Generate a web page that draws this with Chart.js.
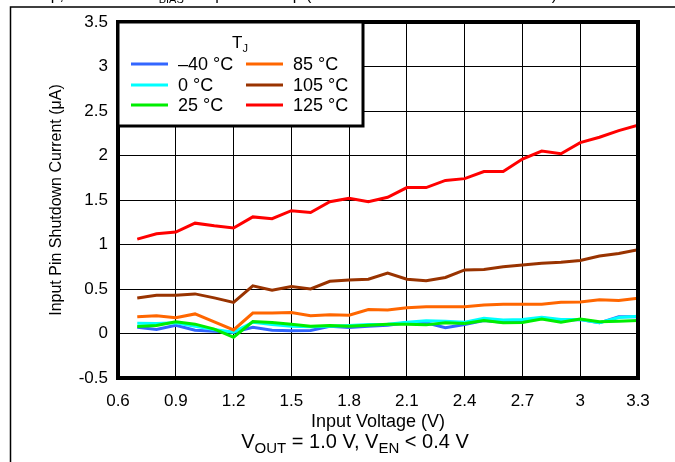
<!DOCTYPE html>
<html>
<head>
<meta charset="utf-8">
<script src="https://cdn.jsdelivr.net/npm/chart.js@4"></script>
<style>
  html, body { margin: 0; padding: 0; background: #fff; }
  canvas { display: block; }
</style>
</head>
<body>
<canvas id="c" width="675" height="462"></canvas>
<script>
// Input voltage sweep (V)
const inputVoltage = [0.7, 0.8, 0.9, 1.0, 1.1, 1.2, 1.3, 1.4, 1.5, 1.6, 1.7, 1.8, 1.9, 2.0,
                      2.1, 2.2, 2.3, 2.4, 2.5, 2.6, 2.7, 2.8, 2.9, 3.0, 3.1, 3.2, 3.3];

// Shutdown current (µA) per junction temperature
const currentM40 = [0.07, 0.045, 0.093, 0.037, 0.026, 0.015, 0.07, 0.037, 0.03, 0.034, 0.082, 0.068, 0.082, 0.093,
                    0.12, 0.12, 0.064, 0.10, 0.146, 0.127, 0.13, 0.176, 0.146, 0.157, 0.12, 0.187, 0.187];
const current0   = [0.116, 0.112, 0.12, 0.082, 0.045, 0.015, 0.127, 0.10, 0.082, 0.075, 0.082, 0.09, 0.10, 0.105,
                    0.127, 0.142, 0.138, 0.127, 0.172, 0.153, 0.157, 0.183, 0.157, 0.157, 0.12, 0.179, 0.194];
const current25  = [0.078, 0.09, 0.131, 0.105, 0.049, -0.041, 0.135, 0.123, 0.105, 0.082, 0.09, 0.082, 0.093, 0.105,
                    0.105, 0.097, 0.12, 0.112, 0.146, 0.12, 0.123, 0.164, 0.127, 0.164, 0.131, 0.138, 0.146];
const current85  = [0.187, 0.20, 0.176, 0.22, 0.13, 0.04, 0.23, 0.23, 0.235, 0.20, 0.21, 0.205, 0.27, 0.265,
                    0.29, 0.30, 0.30, 0.30, 0.32, 0.33, 0.33, 0.33, 0.35, 0.355, 0.38, 0.37, 0.395];
const current105 = [0.40, 0.43, 0.43, 0.445, 0.40, 0.35, 0.535, 0.485, 0.527, 0.50, 0.586, 0.60, 0.61, 0.68,
                    0.61, 0.594, 0.63, 0.714, 0.72, 0.75, 0.77, 0.79, 0.80, 0.82, 0.87, 0.90, 0.94];
const current125 = [1.06, 1.12, 1.14, 1.24, 1.21, 1.185, 1.31, 1.29, 1.38, 1.36, 1.48, 1.52, 1.48, 1.53,
                    1.64, 1.64, 1.72, 1.74, 1.82, 1.82, 1.96, 2.05, 2.02, 2.145, 2.205, 2.28, 2.34];

// Legend labels
const seriesLabels = ['\u201340 \u00B0C', '0 \u00B0C', '25 \u00B0C', '85 \u00B0C', '105 \u00B0C', '125 \u00B0C'];
const seriesColors = ['#3366FF', '#00FFFF', '#00EE00', '#FF6600', '#993300', '#FF0000'];

// Axis ticks
const xTicks = [0.6, 0.9, 1.2, 1.5, 1.8, 2.1, 2.4, 2.7, 3.0, 3.3];
const yTicks = [-0.5, 0, 0.5, 1, 1.5, 2, 2.5, 3, 3.5];

const seriesValues = [currentM40, current0, current25, current85, current105, current125];
const drawOrder = [6, 5, 4, 3, 2, 1];

const FONT = '"Liberation Sans", Arial, sans-serif';
const fmt = v => String(Math.round(v * 10) / 10);

const datasets = seriesValues.map((vals, i) => ({
  label: seriesLabels[i],
  data: vals.map((y, k) => ({ x: inputVoltage[k], y })),
  borderColor: seriesColors[i],
  backgroundColor: seriesColors[i],
  borderWidth: 3,
  pointRadius: 0,
  tension: 0,
  fill: false,
  order: drawOrder[i]
}));

// Draw text with a subscript run: parts = [[text, isSub], ...]
function runWidth(ctx, parts, size, subSize) {
  let w = 0;
  for (const [t, sub] of parts) {
    ctx.font = (sub ? subSize : size) + 'px ' + FONT;
    w += ctx.measureText(t).width;
  }
  return w;
}
function drawRun(ctx, parts, x, y, size, subSize, subDrop) {
  for (const [t, sub] of parts) {
    ctx.font = (sub ? subSize : size) + 'px ' + FONT;
    ctx.fillText(t, x, sub ? y + subDrop : y);
    x += ctx.measureText(t).width;
  }
  return x;
}

const decorPlugin = {
  id: 'decor',
  afterDatasetsDraw(chart) {
    const { ctx, chartArea: a } = chart;
    ctx.save();
    // plot frame
    ctx.strokeStyle = '#000';
    ctx.lineWidth = 4;
    ctx.strokeRect(a.left, a.top, a.right - a.left, a.bottom - a.top);

    // legend box in the upper-left corner
    const lx = a.left, ly = a.top, lw = 245, lh = 104;
    ctx.fillStyle = '#fff';
    ctx.fillRect(lx, ly, lw, lh);
    ctx.lineWidth = 3;
    ctx.strokeRect(lx, ly, lw, lh);

    ctx.fillStyle = '#000';
    ctx.textBaseline = 'alphabetic';
    ctx.textAlign = 'left';
    const tW = runWidth(ctx, [['T', false], ['J', true]], 17, 11);
    drawRun(ctx, [['T', false], ['J', true]], 240 - tW / 2, 48, 17, 11, 4);

    const cols = [{ sx: 131, tx: 178 }, { sx: 246, tx: 293 }];
    const rows = [64, 85, 105];
    chart.data.datasets.forEach((ds, i) => {
      const c = cols[Math.floor(i / 3)], r = rows[i % 3];
      ctx.strokeStyle = ds.borderColor;
      ctx.lineWidth = 3;
      ctx.beginPath();
      ctx.moveTo(c.sx, r);
      ctx.lineTo(c.sx + 37, r);
      ctx.stroke();
      ctx.fillStyle = '#000';
      ctx.font = '18px ' + FONT;
      ctx.textBaseline = 'middle';
      ctx.fillText(ds.label, c.tx, r + 1);
    });
    ctx.restore();
  },
  afterDraw(chart) {
    const { ctx } = chart;
    ctx.save();
    // outer frame
    ctx.strokeStyle = '#000';
    ctx.lineWidth = 1.5;
    ctx.beginPath();
    ctx.moveTo(10.5, 470);
    ctx.lineTo(10.5, 7);
    ctx.lineTo(680, 7);
    ctx.stroke();

    ctx.fillStyle = '#000';
    ctx.textBaseline = 'alphabetic';
    // caption line above, mostly cut off by the page edge
    ctx.textAlign = 'right';
    ctx.font = '16px ' + FONT;
    ctx.fillText('Shutdown Current vs Temp,', 64, 0);
    ctx.textAlign = 'left';
    drawRun(ctx, [['V', false], ['BIAS', true], [' = Input vs Temp (', false]], 148, 0, 16, 11, 3);
    ctx.textAlign = 'right';
    ctx.font = '16px ' + FONT;
    ctx.fillText('Full Load Current)', 557, 0);

    // condition note under the x axis title
    ctx.textAlign = 'left';
    const note = [['V', false], ['OUT', true], [' = 1.0 V, V', false], ['EN', true], [' < 0.4 V', false]];
    const nW = runWidth(ctx, note, 20, 15);
    drawRun(ctx, note, 355 - nW / 2, 448, 20, 15, 5);
    ctx.restore();
  }
};

new Chart(document.getElementById('c'), {
  type: 'line',
  data: { datasets },
  options: {
    responsive: false,
    animation: false,
    devicePixelRatio: 1,
    layout: { padding: { left: 0, right: 37, top: 22, bottom: 0 } },
    plugins: { legend: { display: false }, tooltip: { enabled: false } },
    scales: {
      x: {
        type: 'linear',
        min: 0.6,
        max: 3.3,
        afterBuildTicks: s => { s.ticks = xTicks.map(v => ({ value: v })); },
        afterFit: s => { s.height = 84; },
        ticks: { callback: fmt, color: '#000', font: { family: FONT, size: 17 }, padding: 13, maxRotation: 0, autoSkip: false },
        grid: { color: '#000', lineWidth: 1, drawTicks: false },
        border: { display: false },
        title: { display: true, text: 'Input Voltage (V)', color: '#000', font: { family: FONT, size: 18 }, padding: { top: 0, bottom: 29 } }
      },
      y: {
        type: 'linear',
        min: -0.5,
        max: 3.5,
        afterBuildTicks: s => { s.ticks = yTicks.map(v => ({ value: v })); },
        afterFit: s => { s.width = 118; },
        ticks: { callback: fmt, color: '#000', font: { family: FONT, size: 17 }, padding: 10, autoSkip: false },
        grid: { color: '#000', lineWidth: 1, drawTicks: false },
        border: { display: false },
        title: { display: true, text: 'Input Pin Shutdown Current (\u03BCA)', color: '#000', font: { family: FONT, size: 16 }, padding: { top: 47, bottom: 0 } }
      }
    }
  },
  plugins: [decorPlugin]
});
</script>
</body>
</html>
